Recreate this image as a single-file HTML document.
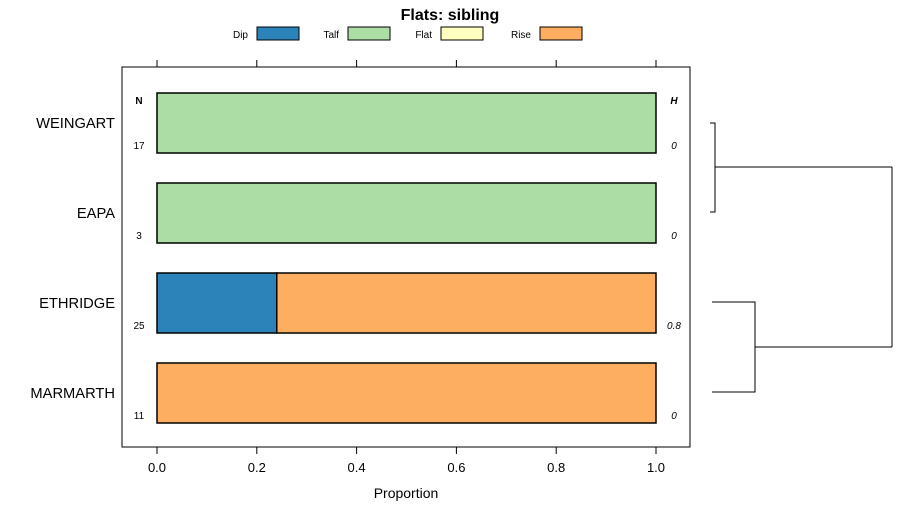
<!DOCTYPE html>
<html><head><meta charset="utf-8"><style>
body{margin:0;background:#fff;}
svg text{font-family:"Liberation Sans",sans-serif;}
</style></head><body>
<svg id="chart" width="900" height="520" xmlns="http://www.w3.org/2000/svg">
<text x="450" y="20" text-anchor="middle" font-size="16" font-weight="bold">Flats: sibling</text>
<g id="legend"></g>
<rect x="122" y="67" width="568" height="380" fill="none" stroke="#000" stroke-width="1"/>
<g id="axes"></g>
<g id="bars"></g>
<text x="139" y="104" font-size="10" font-weight="bold" text-anchor="middle">N</text>
<text x="674" y="104" font-size="10" font-weight="bold" font-style="italic" text-anchor="middle">H</text>
<text x="406" y="498" font-size="14" text-anchor="middle">Proportion</text>
<g id="dendro" stroke="#000" stroke-width="1" fill="none">
<path d="M710 123H715V212H710M715 167H892M712 302H755V392H712M755 347H892M892 167V347"/>
</g>
</svg>
<script>
const categories=["WEINGART","EAPA","ETHRIDGE","MARMARTH"];
const seriesNames=["Dip","Talf","Flat","Rise"];
const colors=["#2b83ba","#abdda4","#ffffbf","#fdae61"];
const dip=[0,0,0.24,0];
const talf=[1,1,0,0];
const flat=[0,0,0,0];
const rise=[0,0,0.76,1];
const nVals=["17","3","25","11"];
const hVals=["0","0","0.8","0"];
const ticks=[0,0.2,0.4,0.6,0.8,1.0];
const tickLabels=["0.0","0.2","0.4","0.6","0.8","1.0"];
const NS="http://www.w3.org/2000/svg";
function x(v){return 157+v*499;}
function yTop(i){return 93+i*90;}
function mk(tag,attrs,parent,txt){const e=document.createElementNS(NS,tag);for(const k in attrs)e.setAttribute(k,attrs[k]);if(txt!==undefined)e.textContent=txt;parent.appendChild(e);return e;}
const axes=document.getElementById('axes');
ticks.forEach((t,i)=>{
 const a=mk('line',{x1:x(t),x2:x(t),y1:447,y2:454,stroke:'#000'},axes);
 
 
 const b=mk('line',{x1:x(t),x2:x(t),y1:60,y2:67,stroke:'#000'},axes);
 
 
 const l=mk('text',{x:x(t),y:472,'font-size':13,'text-anchor':'middle'},axes,tickLabels[i]);
 
 
});
const bars=document.getElementById('bars');
const series=[dip,talf,flat,rise];
categories.forEach((c,i)=>{
 const yt=yTop(i);
 let acc=0;
 series.forEach((s,j)=>{
  const v=s[i];
  if(v>0){
   const r=mk('rect',{x:x(acc),y:yt,width:x(acc+v)-x(acc),height:60,fill:colors[j],stroke:'#000','stroke-width':1.5},bars);
   
   
  }
  acc+=v;
 });
 const lab=mk('text',{x:115,y:yt+35,'font-size':14.7,'text-anchor':'end'},bars,c);
 
 
 const n=mk('text',{x:139,y:yt+56,'font-size':10,'text-anchor':'middle'},bars,nVals[i]);
 
 
 const h=mk('text',{x:674,y:yt+56,'font-size':10,'font-style':'italic','text-anchor':'middle'},bars,hVals[i]);
 
 
});
const leg=document.getElementById('legend');
const lx=[257,348,441,540];
seriesNames.forEach((s,i)=>{
 const t=mk('text',{x:lx[i]-9,y:38,'font-size':10,'text-anchor':'end'},leg,s);
 
 
 const r=mk('rect',{x:lx[i],y:27,width:42,height:13,fill:colors[i],stroke:'#000'},leg);
 
 
});
</script>
</body></html>
